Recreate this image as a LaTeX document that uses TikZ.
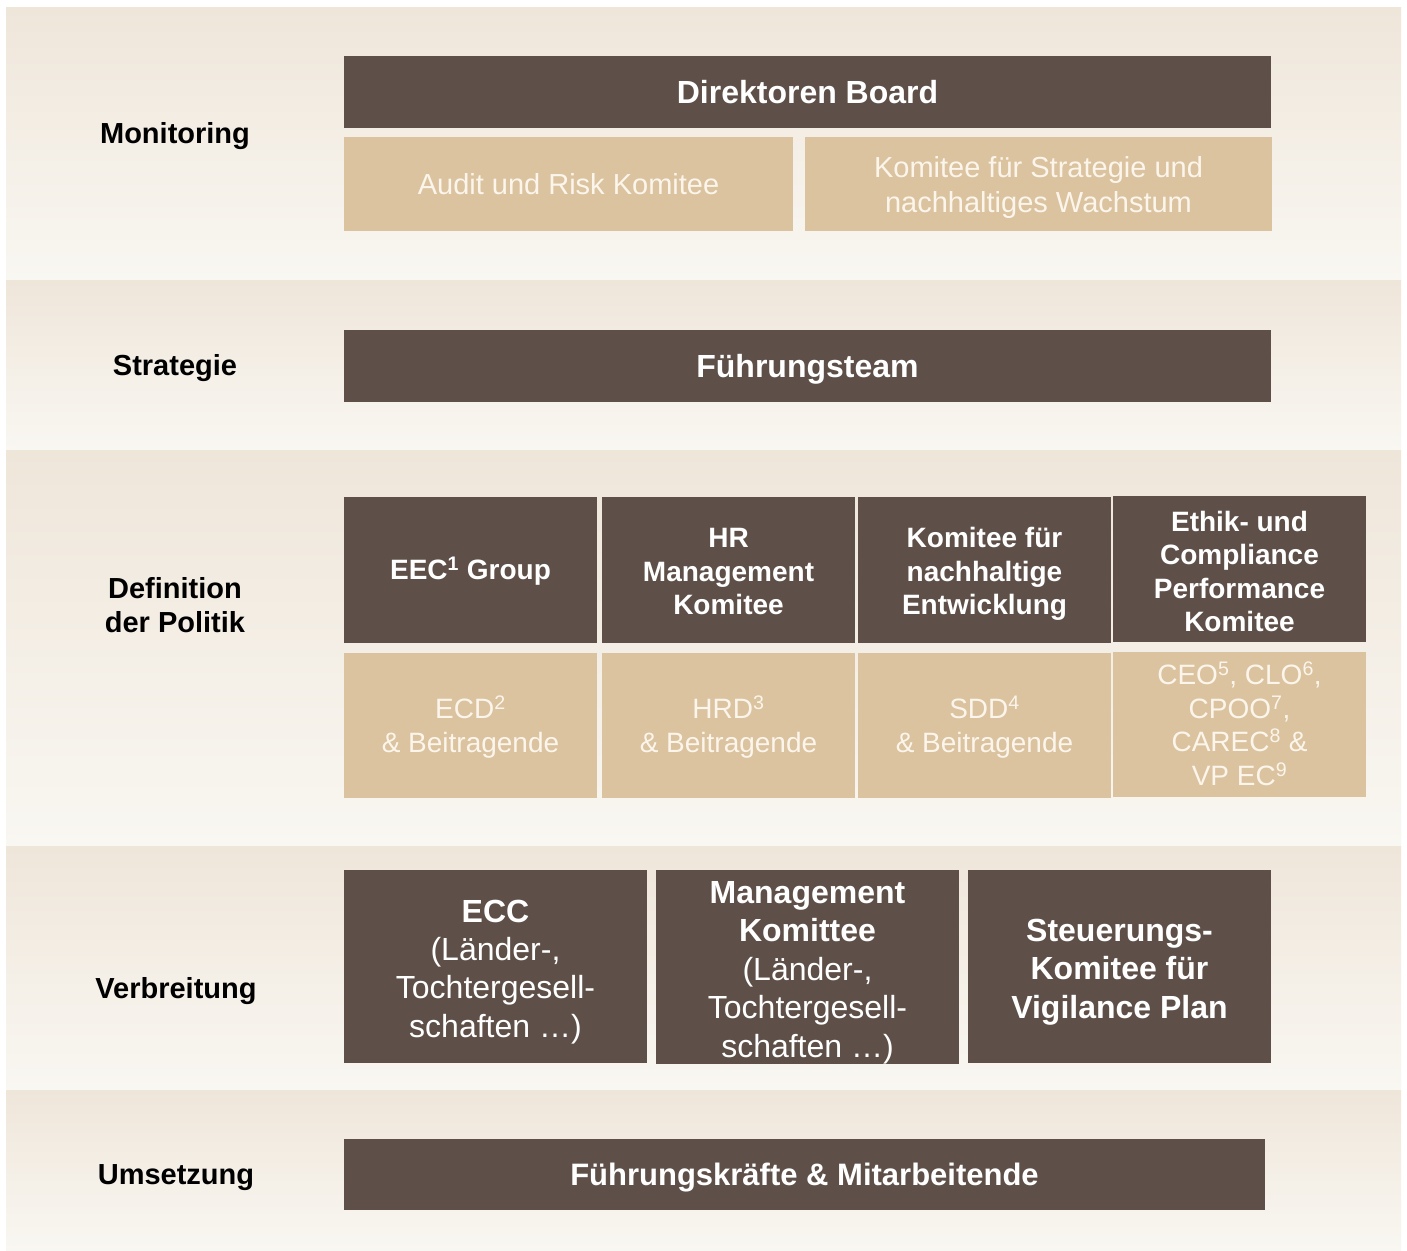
\documentclass[tikz,border=0pt]{standalone}
\usepackage{fontspec}
\setmainfont{Liberation Sans}
\definecolor{bandtop}{RGB}{239,230,218}
\definecolor{bandbot}{RGB}{249,247,242}
\definecolor{darkbox}{RGB}{94,80,72}
\definecolor{lightbox}{RGB}{219,195,159}
\definecolor{lighttext}{RGB}{251,245,236}
\newcommand{\fst}[1]{\rule{0pt}{#1pt}}
\tikzset{
  band/.style={top color=bandtop,bottom color=bandbot,draw=none},
  pptext/.style 2 args={execute at begin node={\rule{0pt}{#1pt}},execute at end node={\rule[-#2pt]{0pt}{0pt}}},
  darkcell/.style={fill=darkbox,text=white,font=\bfseries\fontsize{32}{38.4}\selectfont,align=center,anchor=north west,inner sep=0pt,outer sep=0pt},
  lightcell/.style={fill=lightbox,text=lighttext,font=\fontsize{29}{35}\selectfont,align=center,anchor=north west,inner sep=0pt,outer sep=0pt},
  rowlabel/.style={text=black,font=\bfseries\fontsize{29}{34.5}\selectfont,align=center,inner sep=0pt},
  sz/.style 2 args={minimum width=#1pt,minimum height=#2pt}
}
\begin{document}
\begin{tikzpicture}[x=1pt,y=-1pt]
\useasboundingbox (0,0) rectangle (1407,1250);
\fill[white] (0,0) rectangle (1407,1250);
% bands
\shade[band] (6,7) rectangle (1401,280);
\shade[band] (6,280) rectangle (1401,450);
\shade[band] (6,450) rectangle (1401,846);
\shade[band] (6,846) rectangle (1401,1090);
\shade[band] (6,1090) rectangle (1401,1250);
% labels
\node[rowlabel,pptext={26}{6}] (lmon) at (175,134) {Monitoring};
\node[rowlabel,pptext={26}{6}] (lstr) at (175,366) {Strategie};
\node[rowlabel,pptext={34}{6}] (ldef) at (175,605) {\fst{27}Definition\\der Politik};
\node[rowlabel,pptext={26}{6}] (lver) at (176,989) {Verbreitung};
\node[rowlabel,pptext={26}{6}] (lums) at (176,1175) {Umsetzung};
% Monitoring
\node[darkcell,pptext={29}{7},sz={927}{72}] (board) at (344,56) {Direktoren Board};
\node[lightcell,pptext={26}{6},sz={449}{94}] (audit) at (344,137) {Audit und Risk Komitee};
\node[lightcell,pptext={34}{6},sz={467}{94}] (kswa) at (805,137) {\fst{28}Komitee für Strategie und\\nachhaltiges Wachstum};
% Strategie
\node[darkcell,pptext={29}{7},sz={927}{72}] (fteam) at (344,330) {Führungsteam};
% Definition der Politik
\node[darkcell,pptext={25}{6},sz={253}{146},font=\bfseries\fontsize{28}{33.5}\selectfont] (eec) at (344,497) {EEC\textsuperscript{1} Group};
\node[darkcell,pptext={34}{6},sz={253}{146},font=\bfseries\fontsize{28}{33.5}\selectfont] (hr) at (602,497) {\fst{28.5}HR\\Management\\Komitee};
\node[darkcell,pptext={34}{6},sz={253}{146},font=\bfseries\fontsize{28}{33.5}\selectfont] (kne) at (858,497) {\fst{28.5}Komitee für\\nachhaltige\\Entwicklung};
\node[darkcell,pptext={35}{6},sz={253}{146},font=\bfseries\fontsize{28}{33.5}\selectfont] (ecp) at (1113,496) {\fst{30.5}Ethik- und\\Compliance\\Performance\\Komitee};
\node[lightcell,pptext={32}{6},sz={253}{145},font=\fontsize{28}{34}\selectfont] (ecd) at (344,653) {\fst{26.5}ECD\textsuperscript{2}\\\& Beitragende};
\node[lightcell,pptext={32}{6},sz={253}{145},font=\fontsize{28}{34}\selectfont] (hrd) at (602,653) {\fst{26.5}HRD\textsuperscript{3}\\\& Beitragende};
\node[lightcell,pptext={32}{6},sz={253}{145},font=\fontsize{28}{34}\selectfont] (sdd) at (858,653) {\fst{26.5}SDD\textsuperscript{4}\\\& Beitragende};
\node[lightcell,pptext={32}{6},sz={253}{145},font=\fontsize{28}{33.5}\selectfont] (ceo) at (1113,652) {\fst{27}CEO\textsuperscript{5}, CLO\textsuperscript{6},\\CPOO\textsuperscript{7},\\CAREC\textsuperscript{8} \&\\VP EC\textsuperscript{9}};
% Verbreitung
\node[darkcell,pptext={39}{7},sz={303}{193}] (ecc) at (344,870) {\fst{33.5}ECC\\\mdseries(Länder-,\\\mdseries Tochtergesell-\\\mdseries schaften …)};
\node[darkcell,pptext={39}{7},sz={303}{193}] (mgmt) at (656,870) {\fst{33.5}Management\\Komittee\\\mdseries(Länder-,\\\mdseries Tochtergesell-\\\mdseries schaften …)};
\node[darkcell,pptext={39}{7},sz={303}{193}] (steu) at (968,870) {\fst{33.5}Steuerungs-\\Komitee für\\Vigilance Plan};
% Umsetzung
\node[darkcell,pptext={28}{7},sz={921}{71},font=\bfseries\fontsize{31}{37}\selectfont] (fkm) at (344,1139) {Führungskräfte \& Mitarbeitende};
\end{tikzpicture}
\end{document}
